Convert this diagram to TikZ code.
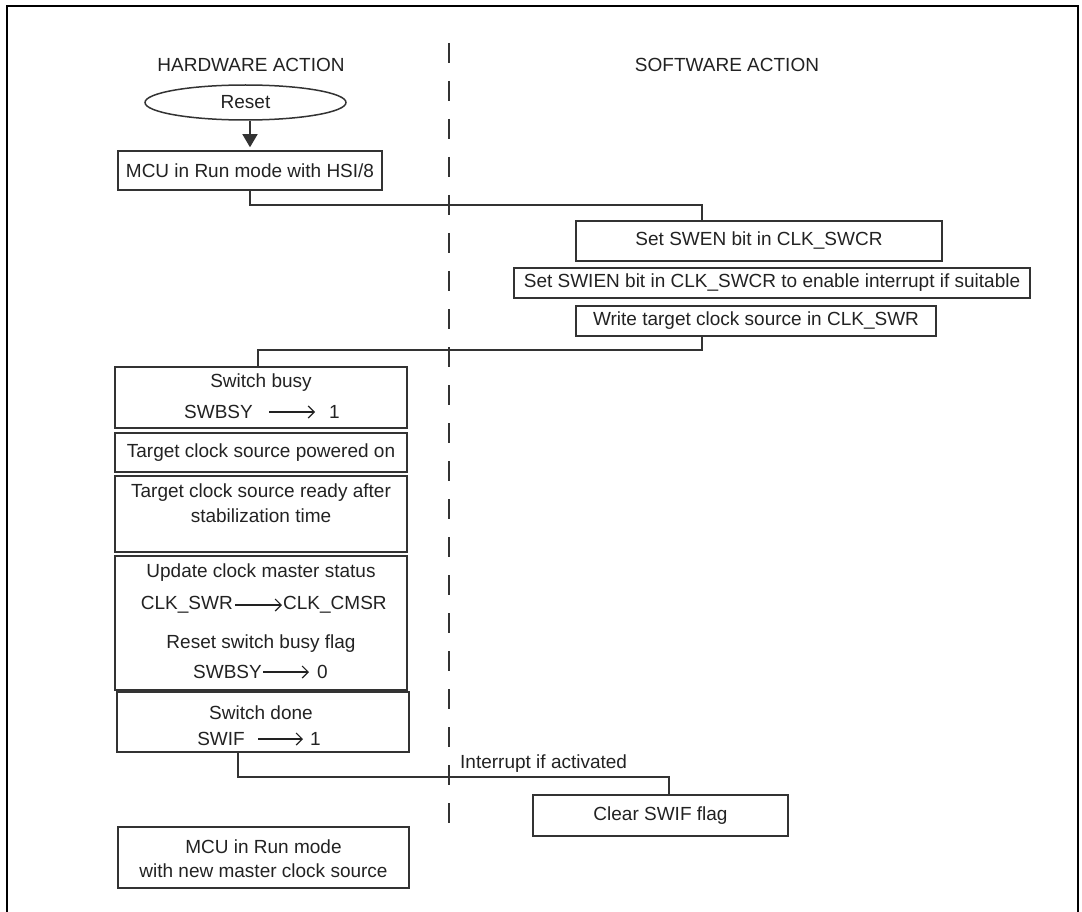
\documentclass[tikz,border=0pt]{standalone}
\usepackage{fontspec}
\setmainfont{Liberation Sans}
\usetikzlibrary{shapes.geometric,arrows.meta}
\definecolor{ink}{HTML}{222222}
\definecolor{edge}{HTML}{333333}
\tikzset{
  box/.style={draw=edge, line width=1.5pt, inner sep=0pt, text=ink, align=center},
  lbl/.style={inner sep=0pt, text=ink, align=center},
  conn/.style={draw=edge, line width=1.3pt},
  iarrow/.style={draw=ink, line width=1.2pt, -{Straight Barb[length=6pt,width=12pt]}},
}
\begin{document}
\begin{tikzpicture}[x=1pt,y=-1pt,font=\fontsize{19pt}{23pt}\selectfont]
\clip (0,0) rectangle (1082,912);
\useasboundingbox (0,0) rectangle (1082,912);
% frame
\draw[draw=black, line width=2.6pt] (7,930) -- (7,6) -- (1078,6) -- (1078,930);
% lane divider
\draw[draw=edge, line width=1.5pt, dash pattern=on 20pt off 18pt] (449,43) -- (449,826);
% headers
\node[lbl] (hw) at (251,65) {HARDWARE ACTION};
\node[lbl] (sw) at (727,65) {SOFTWARE ACTION};
% reset
\node[box, ellipse, minimum width=201pt, minimum height=35pt] (reset) at (245.5,102.5) {Reset};
% boxes
\node[box, minimum width=264pt, minimum height=39pt] (mcu) at (250,170.5) {MCU in Run mode with HSI/8};
\node[box, minimum width=366pt, minimum height=40pt] (swen) at (759,241) {Set SWEN bit in CLK\_SWCR};
\node[box, minimum width=516pt, minimum height=30pt] (swien) at (772,283) {Set SWIEN bit in CLK\_SWCR to enable interrupt if suitable};
\node[box, minimum width=360pt, minimum height=30pt] (write) at (756,321) {Write target clock source in CLK\_SWR};
\node[box, minimum width=292pt, minimum height=61pt] (busy) at (261,397.5) {};
\node[box, minimum width=292pt, minimum height=39pt] (powered) at (261,452.5) {Target clock source powered on};
\node[box, minimum width=292pt, minimum height=76pt] (ready) at (261,514) {};
\node[box, minimum width=292pt, minimum height=134pt] (update) at (261,623) {};
\node[box, minimum width=292pt, minimum height=60pt] (done) at (263,722) {};
\node[box, minimum width=255pt, minimum height=41pt] (clear) at (660.5,815.5) {Clear SWIF flag};
\node[box, minimum width=291pt, minimum height=61pt] (mcunew) at (263.5,857.5) {};
% texts inside boxes
\node[lbl] (busyt) at (261,383) {Switch busy};
\node[lbl, anchor=east] (busya) at (253,412) {SWBSY};
\node[lbl, anchor=west] (busyb) at (329,412) {1};
\draw[iarrow, shorten <=16pt, shorten >=14pt] (busya.east) -- (busyb.west);
\node[lbl] (readyt) at (261,493) {Target clock source ready after};
\node[lbl] (readyu) at (261,516) {stabilization time};
\node[lbl] (updt) at (261,573) {Update clock master status};
\node[lbl, anchor=east] (upda) at (233,605) {CLK\_SWR};
\node[lbl, anchor=west] (updb) at (283,605) {CLK\_CMSR};
\draw[iarrow, shorten <=2pt, shorten >=1pt] (upda.east) -- (updb.west);
\node[lbl] (rstt) at (261,644) {Reset switch busy flag};
\node[lbl, anchor=east] (rsta) at (262,672) {SWBSY};
\node[lbl, anchor=west] (rstb) at (317,672) {0};
\draw[iarrow, shorten <=1pt, shorten >=8pt] (rsta.east) -- (rstb.west);
\node[lbl] (donet) at (261,713) {Switch done};
\node[lbl, anchor=east] (donea) at (245,739) {SWIF};
\node[lbl, anchor=west] (doneb) at (310,739) {1};
\draw[iarrow, shorten <=13pt, shorten >=7pt] (donea.east) -- (doneb.west);
\node[lbl] (newt) at (263.5,847) {MCU in Run mode};
\node[lbl] (newu) at (263.5,871) {with new master clock source};
% connectors
\draw[conn, -{Triangle[width=15pt,length=13pt]}, shorten >=3pt] (reset.south -| mcu.north) -- (mcu.north);
\coordinate (j1) at (702,205);
\coordinate (j2) at (258,350);
\coordinate (j3) at (238,777);
\coordinate (j4) at (669,777);
\draw[conn] (mcu.south) |- (j1) -- (j1 |- swen.north);
\draw[conn] (j1 |- write.south) |- (j2) -- (j2 |- busy.north);
\draw[conn] (j3 |- done.south) -- (j3) -- (j4) -- (j4 |- clear.north);
\node[lbl, anchor=west] (intr) at (460,764) {Interrupt if activated};
\end{tikzpicture}
\end{document}
